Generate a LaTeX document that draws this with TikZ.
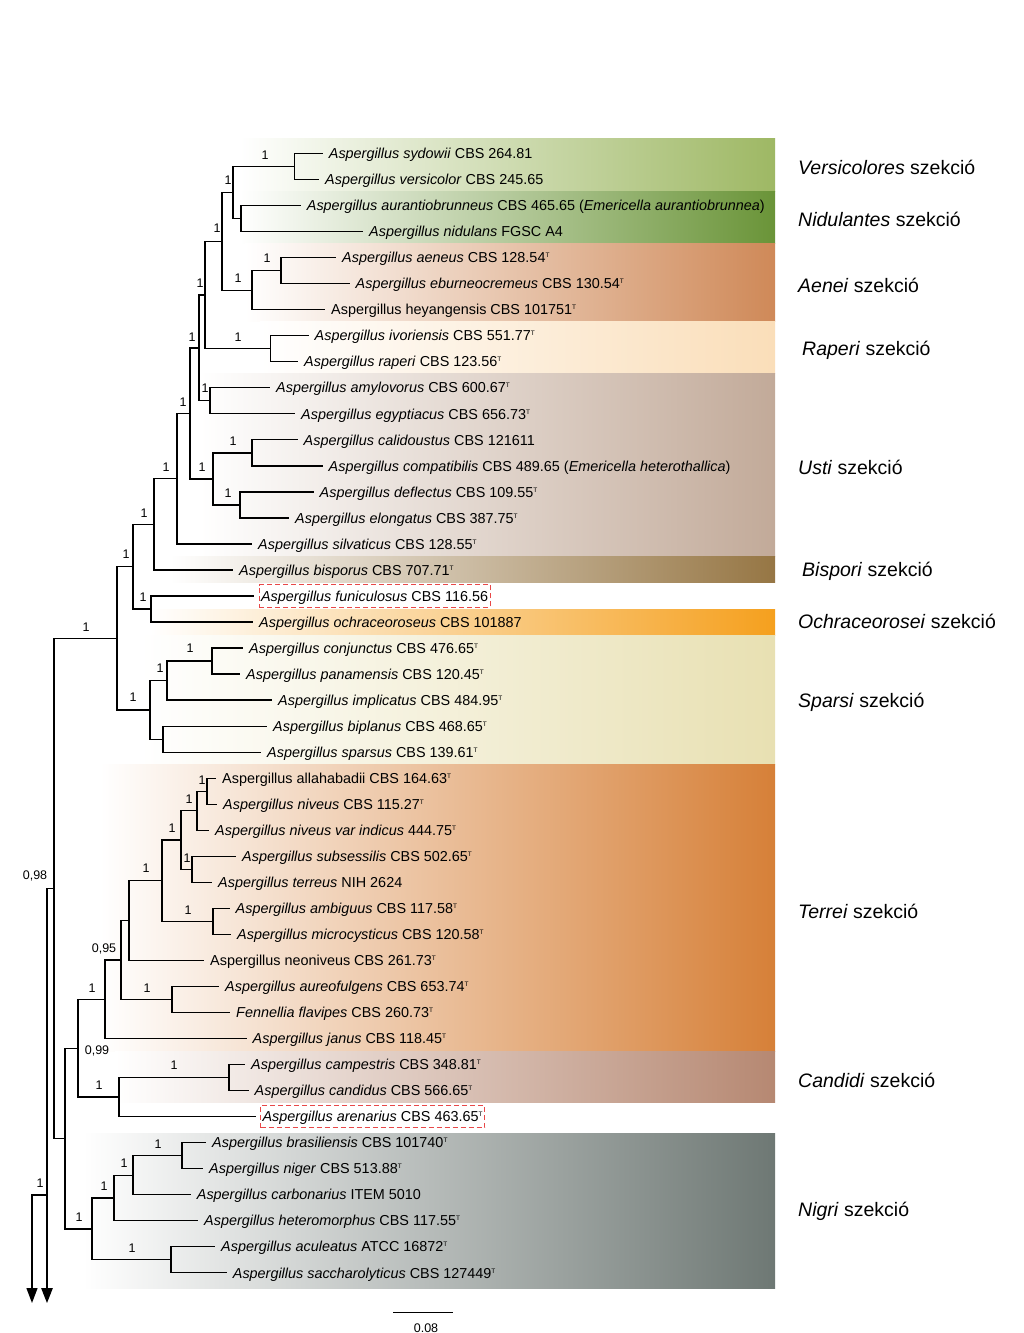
\documentclass[tikz,border=0pt]{standalone}
\usepackage{fontspec}
\setmainfont{Liberation Sans}
\usetikzlibrary{arrows.meta}
\definecolor{cVers}{RGB}{158,184,100}
\definecolor{cNid}{RGB}{106,148,56}
\definecolor{cAen}{RGB}{207,137,88}
\definecolor{cRap}{RGB}{250,222,185}
\definecolor{cUst}{RGB}{194,170,153}
\definecolor{cBis}{RGB}{150,118,68}
\definecolor{cOch}{RGB}{245,160,30}
\definecolor{cSpa}{RGB}{232,224,178}
\definecolor{cTer}{RGB}{214,128,56}
\definecolor{cCan}{RGB}{182,136,114}
\definecolor{cNig}{RGB}{110,120,116}
\definecolor{cDash}{RGB}{232,72,72}
\newcommand\ry[1]{153.5+26.03*(#1-1)}
\newcommand\tp{\raisebox{5pt}{\fontsize{6.5}{7}\selectfont T}}
\tikzset{
  br/.style={line width=1.3pt},
  leaf/.style={anchor=west, inner xsep=6pt, inner ysep=0pt, font=\fontsize{14.4}{17}\selectfont, text height=10.4pt, text depth=0pt},
  boxed/.style={leaf, draw=cDash, dash pattern=on 5pt off 3pt, line width=1pt, inner xsep=2pt, inner ysep=6pt},
  suplab/.style={font=\fontsize{12.5}{14}\selectfont, inner sep=0pt, text height=9pt, text depth=0pt},
  sect/.style={anchor=west, inner sep=0pt, font=\fontsize{19.5}{22}\selectfont, text height=14pt, text depth=0pt},
  band/.style={left color=white, right color=#1}
}
\begin{document}
\begin{tikzpicture}[x=1pt,y=-1pt]
\fill[white] (0,0) rectangle (1024,1333);
\useasboundingbox (0,0) rectangle (1024,1333);
% bands
\fill[band=cVers] (240,138) rectangle (775,191);
\fill[band=cNid] (240,191) rectangle (775,243);
\fill[band=cAen] (245,243) rectangle (775,321);
\fill[band=cRap] (260,321) rectangle (775,373);
\fill[band=cUst] (200,373) rectangle (775,556);
\fill[band=cBis] (170,556) rectangle (775,582);
\fill[band=cOch] (150,609) rectangle (775,635);
\fill[band=cSpa] (140,635) rectangle (775,764);
\fill[band=cTer] (100,764) rectangle (775,1051);
\fill[band=cCan] (115,1051) rectangle (775,1102);
\fill[band=cNig] (83,1133) rectangle (775,1288);
% leaves
\node[leaf] (L1) at (322.7,{\ry{1}}) {\textit{Aspergillus sydowii} CBS 264.81};
\node[leaf] (L2) at (319,{\ry{2}}) {\textit{Aspergillus versicolor} CBS 245.65};
\node[leaf] (L3) at (300.7,{\ry{3}}) {\textit{Aspergillus aurantiobrunneus} CBS 465.65 (\textit{Emericella aurantiobrunnea})};
\node[leaf] (L4) at (363,{\ry{4}}) {\textit{Aspergillus nidulans} FGSC A4};
\node[leaf] (L5) at (336,{\ry{5}}) {\textit{Aspergillus aeneus} CBS 128.54\tp};
\node[leaf] (L6) at (349.5,{\ry{6}}) {\textit{Aspergillus eburneocremeus} CBS 130.54\tp};
\node[leaf] (L7) at (325,{\ry{7}}) {Aspergillus heyangensis CBS 101751\tp};
\node[leaf] (L8) at (308.5,{\ry{8}}) {\textit{Aspergillus ivoriensis} CBS 551.77\tp};
\node[leaf] (L9) at (298,{\ry{9}}) {\textit{Aspergillus raperi} CBS 123.56\tp};
\node[leaf] (L10) at (270,{\ry{10}}) {\textit{Aspergillus amylovorus} CBS 600.67\tp};
\node[leaf] (L11) at (295,{\ry{11}}) {\textit{Aspergillus egyptiacus} CBS 656.73\tp};
\node[leaf] (L12) at (297.5,{\ry{12}}) {\textit{Aspergillus calidoustus} CBS 121611};
\node[leaf] (L13) at (322.5,{\ry{13}}) {\textit{Aspergillus compatibilis} CBS 489.65 (\textit{Emericella heterothallica})};
\node[leaf] (L14) at (313.5,{\ry{14}}) {\textit{Aspergillus deflectus} CBS 109.55\tp};
\node[leaf] (L15) at (289,{\ry{15}}) {\textit{Aspergillus elongatus} CBS 387.75\tp};
\node[leaf] (L16) at (252,{\ry{16}}) {\textit{Aspergillus silvaticus} CBS 128.55\tp};
\node[leaf] (L17) at (233,{\ry{17}}) {\textit{Aspergillus bisporus} CBS 707.71\tp};
\node[boxed] (L18) at (258.5,{\ry{18}}) {\textit{Aspergillus funiculosus} CBS 116.56};
\node[leaf] (L19) at (253,{\ry{19}}) {\textit{Aspergillus ochraceoroseus} CBS 101887};
\node[leaf] (L20) at (243,{\ry{20}}) {\textit{Aspergillus conjunctus} CBS 476.65\tp};
\node[leaf] (L21) at (240,{\ry{21}}) {\textit{Aspergillus panamensis} CBS 120.45\tp};
\node[leaf] (L22) at (272,{\ry{22}}) {\textit{Aspergillus implicatus} CBS 484.95\tp};
\node[leaf] (L23) at (267,{\ry{23}}) {\textit{Aspergillus biplanus} CBS 468.65\tp};
\node[leaf] (L24) at (261,{\ry{24}}) {\textit{Aspergillus sparsus} CBS 139.61\tp};
\node[leaf] (L25) at (216,{\ry{25}}) {Aspergillus allahabadii CBS 164.63\tp};
\node[leaf] (L26) at (217,{\ry{26}}) {\textit{Aspergillus niveus} CBS 115.27\tp};
\node[leaf] (L27) at (209,{\ry{27}}) {\textit{Aspergillus niveus var indicus} 444.75\tp};
\node[leaf] (L28) at (236,{\ry{28}}) {\textit{Aspergillus subsessilis} CBS 502.65\tp};
\node[leaf] (L29) at (212,{\ry{29}}) {\textit{Aspergillus terreus} NIH 2624};
\node[leaf] (L30) at (229.5,{\ry{30}}) {\textit{Aspergillus ambiguus} CBS 117.58\tp};
\node[leaf] (L31) at (231,{\ry{31}}) {\textit{Aspergillus microcysticus} CBS 120.58\tp};
\node[leaf] (L32) at (204,{\ry{32}}) {Aspergillus neoniveus CBS 261.73\tp};
\node[leaf] (L33) at (219,{\ry{33}}) {\textit{Aspergillus aureofulgens} CBS 653.74\tp};
\node[leaf] (L34) at (230,{\ry{34}}) {\textit{Fennellia flavipes} CBS 260.73\tp};
\node[leaf] (L35) at (246.5,{\ry{35}}) {\textit{Aspergillus janus} CBS 118.45\tp};
\node[leaf] (L36) at (245,{\ry{36}}) {\textit{Aspergillus campestris} CBS 348.81\tp};
\node[leaf] (L37) at (248.5,{\ry{37}}) {\textit{Aspergillus candidus} CBS 566.65\tp};
\node[boxed] (L38) at (260,{\ry{38}}) {\textit{Aspergillus arenarius} CBS 463.65\tp};
\node[leaf] (L39) at (206,{\ry{39}}) {\textit{Aspergillus brasiliensis} CBS 101740\tp};
\node[leaf] (L40) at (203,{\ry{40}}) {\textit{Aspergillus niger} CBS 513.88\tp};
\node[leaf] (L41) at (190.7,{\ry{41}}) {\textit{Aspergillus carbonarius} ITEM 5010};
\node[leaf] (L42) at (198,{\ry{42}}) {\textit{Aspergillus heteromorphus} CBS 117.55\tp};
\node[leaf] (L43) at (215,{\ry{43}}) {\textit{Aspergillus aculeatus} ATCC 16872\tp};
\node[leaf] (L44) at (226.7,{\ry{44}}) {\textit{Aspergillus saccharolyticus} CBS 127449\tp};
% internal nodes
\foreach \n/\x/\i in {vs/294.5/1.5, nd/241/3.5, VN/233/2.5, ae/281/5.5, aenei/252/6.25,
  VNA/222/4.375, rp/270.5/8.5, VNAR/205/6.4375, amy/210/10.5, n199/199/8.46875,
  cal/252/12.5, def/240/14.5, n213/213/13.5, n190/190/10.984375, n177/177/13.4921875,
  n154/154/15.24609375, fun/151/18.5, n133/133/16.873046875, conj/212/20.5, n167/167/21.25,
  bip/163/23.5, n150/150/22.375, n117/117/19.6240234375, alla/207/25.5, n197/197/26.25,
  subs/192/28.5, n181/181/27.375, amb/213/30.5, n162/162/28.9375, n129/129/30.46875,
  aur/172/33.5, n121/121/31.984375, n105/105/33.4921875, camp/229/36.5, n119/119/37.25,
  n78/78/35.37109375, bras/182/39.5, n133b/133/40.25, n114/114/41.125, acu/171/43.5,
  n92/92/42.3125, n65/65/38.841796875, n54/54/29.23291015625, r0/47/29.23291015625}
  \coordinate (\n) at (\x,{\ry{\i}});
\coordinate (r1) at (47,1195);
\coordinate (tipR) at (47,1303);
\coordinate (tipL) at (32,1303);
% branches to leaves
\foreach \p/\c in {vs/L1, vs/L2, nd/L3, nd/L4, ae/L5, ae/L6, aenei/L7, rp/L8, rp/L9,
  amy/L10, amy/L11, cal/L12, cal/L13, def/L14, def/L15, n177/L16, n154/L17, fun/L19,
  conj/L20, conj/L21, n167/L22, bip/L23, bip/L24, alla/L25, alla/L26, n197/L27,
  subs/L28, subs/L29, amb/L30, amb/L31, n129/L32, aur/L33, aur/L34, n105/L35,
  camp/L36, camp/L37, bras/L39, bras/L40, n133b/L41, n114/L42, acu/L43, acu/L44}
  \draw[br] (\p) |- (\c.west);
\draw[br, shorten >=4.5pt] (fun) |- (L18.west);
\draw[br, shorten >=4.5pt] (n119) |- (L38.west);
% internal branches
\foreach \p/\c in {VN/vs, VN/nd, aenei/ae, VNA/VN, VNA/aenei, VNAR/VNA, VNAR/rp,
  n199/VNAR, n199/amy, n213/cal, n213/def, n190/n199, n190/n213, n177/n190,
  n154/n177, n133/n154, n133/fun, n167/conj, n150/n167, n150/bip, n117/n133, n117/n150,
  n197/alla, n181/n197, n181/subs, n162/n181, n162/amb, n129/n162, n121/n129, n121/aur,
  n105/n121, n119/camp, n78/n105, n78/n119, n133b/bras, n114/n133b, n92/n114, n92/acu,
  n65/n78, n65/n92, n54/n117, n54/n65}
  \draw[br] (\p) |- (\c);
\draw[br] (r0) -- (n54);
\draw[br, -{Triangle[width=11.5pt,length=15pt]}] (r0) -- (tipR);
\draw[br, -{Triangle[width=11pt,length=15pt]}] (r1) -| (tipL);
% support values
\foreach \n/\x/\y in {s1/265/155, s2/228/180, s3/217/228, s4/267/258, s5/238/278,
  s6/238/337, s7/200/283, s8/205/388, s9/192/337, s10/183/402, s11/233/441, s12/228/493,
  s13/202/467, s14/166/467, s15/144/513, s16/143/597, s17/126/554, s18/190/648,
  s19/160/668, s20/133/697, s21/86/627, s22/202/780, s23/189/799, s24/187/858,
  s25/172/828, s26/188/910, s27/146/868, s28/147/988, s29/92/988, s30/174/1065,
  s31/99/1085, s32/158/1144, s33/124/1163, s34/104/1186, s35/132/1248, s36/79/1217,
  s37/40/1183}
  \node[suplab] (\n) at (\x,\y) {1};
\node[suplab] (s095) at (104,948) {0,95};
\node[suplab] (s099) at (97,1050) {0,99};
\node[suplab] (s098) at (35,875) {0,98};
% section labels
\node[sect] (t1) at (798,167) {\textit{Versicolores} szekció};
\node[sect] (t2) at (798,219) {\textit{Nidulantes} szekció};
\node[sect] (t3) at (798,285) {\textit{Aenei} szekció};
\node[sect] (t4) at (802,348) {\textit{Raperi} szekció};
\node[sect] (t5) at (798,467) {\textit{Usti} szekció};
\node[sect] (t6) at (802,569) {\textit{Bispori} szekció};
\node[sect] (t7) at (798,621) {\textit{Ochraceorosei} szekció};
\node[sect] (t8) at (798,700) {\textit{Sparsi} szekció};
\node[sect] (t9) at (798,911) {\textit{Terrei} szekció};
\node[sect] (t10) at (798,1080) {\textit{Candidi} szekció};
\node[sect] (t11) at (798,1209) {\textit{Nigri} szekció};
% scale bar
\coordinate (sbA) at (393,1312.7);
\coordinate (sbB) at (452.5,1312.7);
\draw[br] (sbA) -- (sbB);
\node[suplab] (sbl) at (426,1328) {0.08};
\end{tikzpicture}
\end{document}
